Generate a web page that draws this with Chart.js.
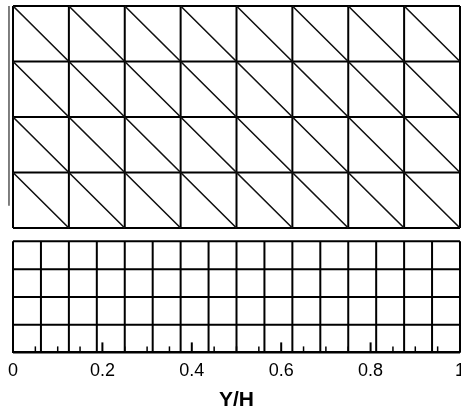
<!DOCTYPE html>
<html>
<head>
<meta charset="utf-8">
<script src="https://cdn.jsdelivr.net/npm/chart.js@4.4.0/dist/chart.umd.min.js"></script>
<style>
  html, body { margin: 0; padding: 0; background: #fff; overflow: hidden; }
  #wrap { position: relative; width: 473px; height: 411px; }
</style>
</head>
<body>
<div id="wrap"><canvas id="mesh-chart"></canvas></div>
<script>
// node positions of the two meshes (Y/H across, height in the same units)
const triCols = [0, 0.125, 0.25, 0.375, 0.5, 0.625, 0.75, 0.875, 1];
const triRows = [0.28, 0.405, 0.53, 0.655, 0.78];
const quadCols = [0, 0.0625, 0.125, 0.1875, 0.25, 0.3125, 0.375, 0.4375, 0.5,
                  0.5625, 0.625, 0.6875, 0.75, 0.8125, 0.875, 0.9375, 1];
const quadRows = [0, 0.0625, 0.125, 0.1875, 0.25];

// axis ticks
const majorTicks = [0, 0.2, 0.4, 0.6, 0.8, 1];
const minorTicks = [0.05, 0.1, 0.15, 0.25, 0.3, 0.35, 0.45, 0.5, 0.55,
                    0.65, 0.7, 0.75, 0.85, 0.9, 0.95];

// stray frame line on the left
const sideBarX = [-0.009];
const sideBarY = [0.33, 0.78];

const GAP = { x: null, y: null };

// horizontal + vertical lines of a structured grid
function gridLines(cols, rows) {
    const pts = [];
    const x0 = cols[0], x1 = cols[cols.length - 1];
    const y0 = rows[0], y1 = rows[rows.length - 1];
    rows.forEach(y => pts.push({ x: x0, y: y }, { x: x1, y: y }, GAP));
    cols.forEach(x => pts.push({ x: x, y: y0 }, { x: x, y: y1 }, GAP));
    return pts;
}

// one diagonal per cell, top-left to bottom-right
function diagonals(cols, rows) {
    const pts = [];
    for (let i = 0; i < cols.length - 1; i++) {
        for (let j = 0; j < rows.length - 1; j++) {
            pts.push({ x: cols[i], y: rows[j + 1] }, { x: cols[i + 1], y: rows[j] }, GAP);
        }
    }
    return pts;
}

function lineSet(data, width, color) {
    return {
        data: data,
        showLine: true,
        borderColor: color,
        borderWidth: width,
        pointRadius: 0,
        pointHoverRadius: 0,
        spanGaps: false,
        clip: false
    };
}

// inward ticks on the bottom axis
const innerTicks = {
    id: 'innerTicks',
    afterDatasetsDraw(chart) {
        const ctx = chart.ctx;
        const xs = chart.scales.x;
        const base = chart.chartArea.bottom;
        ctx.save();
        ctx.strokeStyle = '#000';
        ctx.lineWidth = 1.5;
        minorTicks.forEach(v => {
            const px = xs.getPixelForValue(v);
            ctx.beginPath();
            ctx.moveTo(px, base);
            ctx.lineTo(px, base - 6);
            ctx.stroke();
        });
        ctx.lineWidth = 2;
        majorTicks.forEach(v => {
            const px = xs.getPixelForValue(v);
            ctx.beginPath();
            ctx.moveTo(px, base);
            ctx.lineTo(px, base - 10);
            ctx.stroke();
        });
        ctx.restore();
    }
};

const ctx = document.getElementById('mesh-chart').getContext('2d');
new Chart(ctx, {
    type: 'scatter',
    data: {
        datasets: [
            lineSet(diagonals(triCols, triRows), 1.6, '#111'),
            lineSet(gridLines(triCols, triRows), 2, '#000'),
            lineSet(gridLines(quadCols, quadRows), 2, '#000'),
            lineSet([{ x: sideBarX[0], y: sideBarY[0] }, { x: sideBarX[0], y: sideBarY[1] }], 1.5, '#555')
        ]
    },
    options: {
        responsive: true,
        maintainAspectRatio: false,
        animation: false,
        events: [],
        layout: { padding: { left: 12, top: 6, right: 0, bottom: 0 } },
        plugins: {
            legend: { display: false },
            tooltip: { enabled: false }
        },
        scales: {
            x: {
                type: 'linear',
                min: 0,
                max: 1,
                afterBuildTicks: s => { s.ticks = majorTicks.map(v => ({ value: v })); },
                grid: { display: false, drawTicks: false },
                border: { display: true, color: '#000', width: 2 },
                ticks: {
                    color: '#000',
                    padding: 8,
                    maxRotation: 0,
                    callback: v => String(v),
                    font: { family: "'Liberation Sans', Arial, sans-serif", size: 18 }
                },
                title: {
                    display: true,
                    text: 'Y/H',
                    color: '#000',
                    padding: { top: 0, bottom: 0 },
                    font: { family: "'Liberation Sans', Arial, sans-serif", size: 21, weight: 'bold', lineHeight: 1 }
                }
            },
            y: {
                type: 'linear',
                display: false,
                min: 0,
                max: 0.78
            }
        }
    },
    plugins: [innerTicks]
});
</script>
</body>
</html>
